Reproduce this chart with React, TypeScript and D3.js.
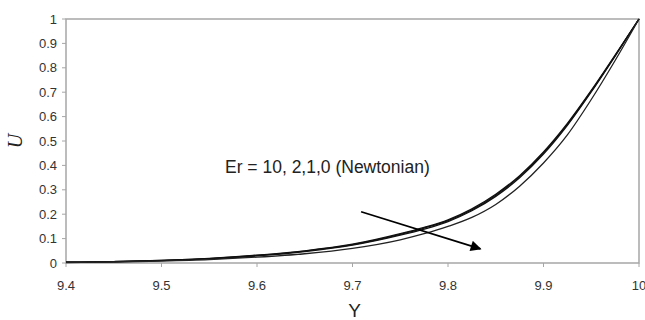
import * as d3 from 'd3'

const yPositions = [9.4, 9.45, 9.5, 9.55, 9.6, 9.65, 9.7, 9.75, 9.775, 9.8, 9.825, 9.85, 9.875, 9.9, 9.925, 9.95, 9.975, 10]
const uEr10 = [0.003, 0.006, 0.011, 0.019, 0.032, 0.05, 0.077, 0.12, 0.146, 0.177, 0.222, 0.282, 0.358, 0.455, 0.572, 0.707, 0.852, 1]
const uEr2 = [0.003, 0.006, 0.011, 0.018, 0.031, 0.049, 0.075, 0.117, 0.143, 0.174, 0.218, 0.278, 0.354, 0.451, 0.568, 0.704, 0.85, 1]
const uEr1 = [0.003, 0.005, 0.01, 0.017, 0.029, 0.047, 0.073, 0.114, 0.139, 0.17, 0.214, 0.273, 0.349, 0.446, 0.564, 0.701, 0.848, 1]
const uNewtonian = [0.002, 0.004, 0.008, 0.014, 0.024, 0.038, 0.06, 0.095, 0.12, 0.15, 0.187, 0.24, 0.315, 0.41, 0.525, 0.67, 0.83, 1]

const seriesList = [
  { name: 'Er = 10', values: uEr10, width: 1.3, color: '#111' },
  { name: 'Er = 2', values: uEr2, width: 1.3, color: '#111' },
  { name: 'Er = 1', values: uEr1, width: 1.3, color: '#111' },
  { name: 'Newtonian', values: uNewtonian, width: 1.3, color: '#222' },
]

const xTicks = [9.4, 9.5, 9.6, 9.7, 9.8, 9.9, 10]
const yTicks = [0, 0.1, 0.2, 0.3, 0.4, 0.5, 0.6, 0.7, 0.8, 0.9, 1]

// arrow start / end in data units
const arrowFrom = { y: 9.709, u: 0.21 }
const arrowTo = { y: 9.834, u: 0.058 }

const width = 645
const height = 320
const margin = { top: 19, right: 6, bottom: 57, left: 66 }

export default function App() {
  const x = d3.scaleLinear().domain([9.4, 10]).range([margin.left, width - margin.right])
  const y = d3.scaleLinear().domain([0, 1]).range([height - margin.bottom, margin.top])

  const line = d3
    .line<number>()
    .x((_, i) => x(yPositions[i]))
    .y((d) => y(d))
    .curve(d3.curveMonotoneX)

  const font = '"Liberation Sans", Arial, sans-serif'
  const x0 = margin.left
  const x1 = width - margin.right
  const y0 = height - margin.bottom
  const y1 = margin.top

  return (
    <svg
      width={width}
      height={height}
      style={{ position: 'absolute', left: 0, top: 0, background: '#fff' }}
      fontFamily={font}
    >
      <defs>
        <marker id="arrowhead" viewBox="0 0 10 10" refX="9" refY="5" markerWidth="7" markerHeight="6" orient="auto" markerUnits="strokeWidth">
          <path d="M0,0 L10,5 L0,10 z" fill="#000" />
        </marker>
      </defs>

      <rect x={x0} y={y1} width={x1 - x0} height={y0 - y1} fill="none" stroke="#a6a6a6" strokeWidth={1.5} />

      {yTicks.map((t) => (
        <g key={`y${t}`}>
          <line x1={x0 - 4} x2={x0} y1={y(t)} y2={y(t)} stroke="#a6a6a6" />
          <text x={x0 - 9} y={y(t)} dy="0.35em" textAnchor="end" fontSize={13} fill="#333">
            {t}
          </text>
        </g>
      ))}

      {xTicks.map((t) => (
        <g key={`x${t}`}>
          <line x1={x(t)} x2={x(t)} y1={y0} y2={y0 + 4} stroke="#a6a6a6" />
          <text x={x(t)} y={y0 + 27} textAnchor="middle" fontSize={13} fill="#333">
            {t}
          </text>
        </g>
      ))}

      {seriesList.map((s) => (
        <path key={s.name} d={line(s.values) ?? ''} fill="none" stroke={s.color} strokeWidth={s.width} />
      ))}

      <line
        x1={x(arrowFrom.y)}
        y1={y(arrowFrom.u)}
        x2={x(arrowTo.y)}
        y2={y(arrowTo.u)}
        stroke="#000"
        strokeWidth={1.8}
        markerEnd="url(#arrowhead)"
      />

      <text x={225} y={173} fontSize={17.5} fill="#222">
        Er = 10, 2,1,0 (Newtonian)
      </text>

      <text
        transform={`translate(22, ${(y0 + y1) / 2}) rotate(-90)`}
        textAnchor="middle"
        fontFamily='"Liberation Serif", "Times New Roman", serif'
        fontStyle="italic"
        fontSize={20}
        fill="#222"
      >
        U
      </text>
      <text x={(x0 + x1) / 2 + 2} y={317} textAnchor="middle" fontSize={19} fill="#222">
        Y
      </text>
    </svg>
  )
}
